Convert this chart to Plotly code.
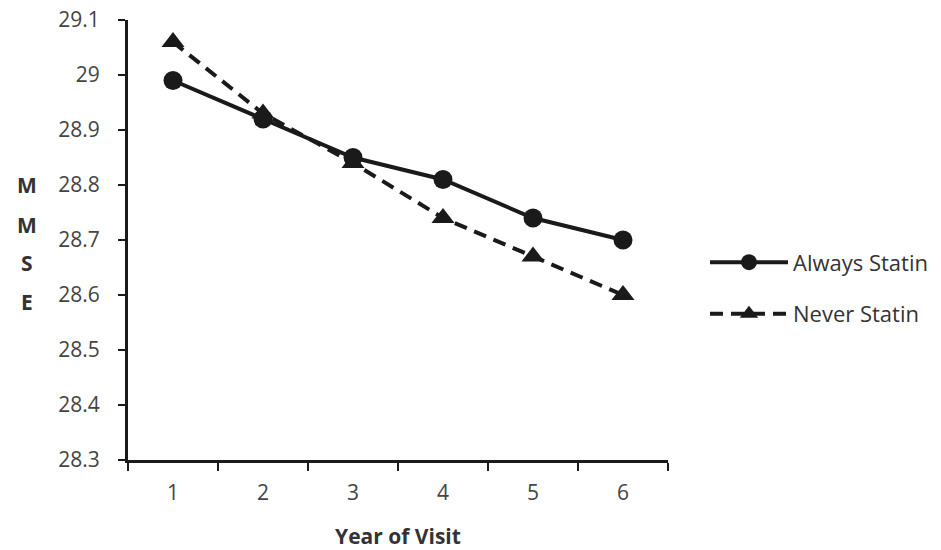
import plotly.graph_objects as go

years = ["1", "2", "3", "4", "5", "6"]
always_statin = [28.99, 28.92, 28.85, 28.81, 28.74, 28.70]
never_statin = [29.06, 28.93, 28.84, 28.74, 28.67, 28.60]
y_ticks = [28.3, 28.4, 28.5, 28.6, 28.7, 28.8, 28.9, 29.0, 29.1]
y_tick_text = ["28.3", "28.4", "28.5", "28.6", "28.7", "28.8", "28.9", "29", "29.1"]
y_title_letters = ["M", "M", "S", "E"]

FONT = "'Open Sans', sans-serif"
INK = "#1a1a1a"

fig = go.Figure()
fig.add_trace(go.Scatter(
    x=years, y=always_statin, name="Always Statin", mode="lines+markers",
    legendgroup="a",
    line=dict(color=INK, width=4),
    marker=dict(symbol="circle", size=19, color=INK),
))
fig.add_trace(go.Scatter(
    x=years, y=never_statin, name="Never Statin", mode="lines+markers",
    legendgroup="b",
    line=dict(color=INK, width=4, dash="13px,8px"),
    marker=dict(symbol="triangle-up", size=20, color=INK),
))

fig.update_layout(
    width=941, height=550,
    margin=dict(l=128, r=273, t=20, b=90, autoexpand=False),
    paper_bgcolor="white", plot_bgcolor="white",
    font=dict(family=FONT, color="#333333"),
    showlegend=True,
    legend=dict(x=1.0685, y=0.39, xanchor="left", yanchor="middle",
                font=dict(size=22, color="#333333", family=FONT),
                tracegroupgap=20, itemwidth=78, bgcolor="rgba(0,0,0,0)"),
    xaxis=dict(
        type="category", range=[-0.5, 5.5], automargin=False,
        showline=True, linecolor=INK, linewidth=3,
        ticks="outside", tickson="boundaries", ticklen=8, tickcolor=INK, tickwidth=1.5,
        showgrid=False, zeroline=False,
        tickfont=dict(size=21, color="#444444"),
        ticklabelstandoff=12,
        title=dict(text="<b>Year of Visit</b>", font=dict(size=21, color="#333333"), standoff=26),
    ),
    yaxis=dict(
        range=[28.3, 29.1], tickvals=y_ticks, ticktext=y_tick_text, automargin=False,
        showline=True, linecolor=INK, linewidth=3,
        ticks="outside", ticklen=7, tickcolor=INK, tickwidth=1.5,
        showgrid=False, zeroline=False,
        tickfont=dict(size=21, color="#444444"),
        ticklabelstandoff=14, ticklabeloverflow="allow",
    ),
)

letter_y = [0.625, 0.534, 0.448, 0.359]
for letter, ly in zip(y_title_letters, letter_y):
    fig.add_annotation(
        text="<b>" + letter + "</b>", xref="paper", yref="paper",
        x=-0.187, y=ly, xanchor="center", yanchor="middle", showarrow=False,
        font=dict(size=21, color="#333333", family=FONT),
    )

fig.write_html("out.html", config={"displayModeBar": False},
               post_script="document.body.style.margin='0';")
